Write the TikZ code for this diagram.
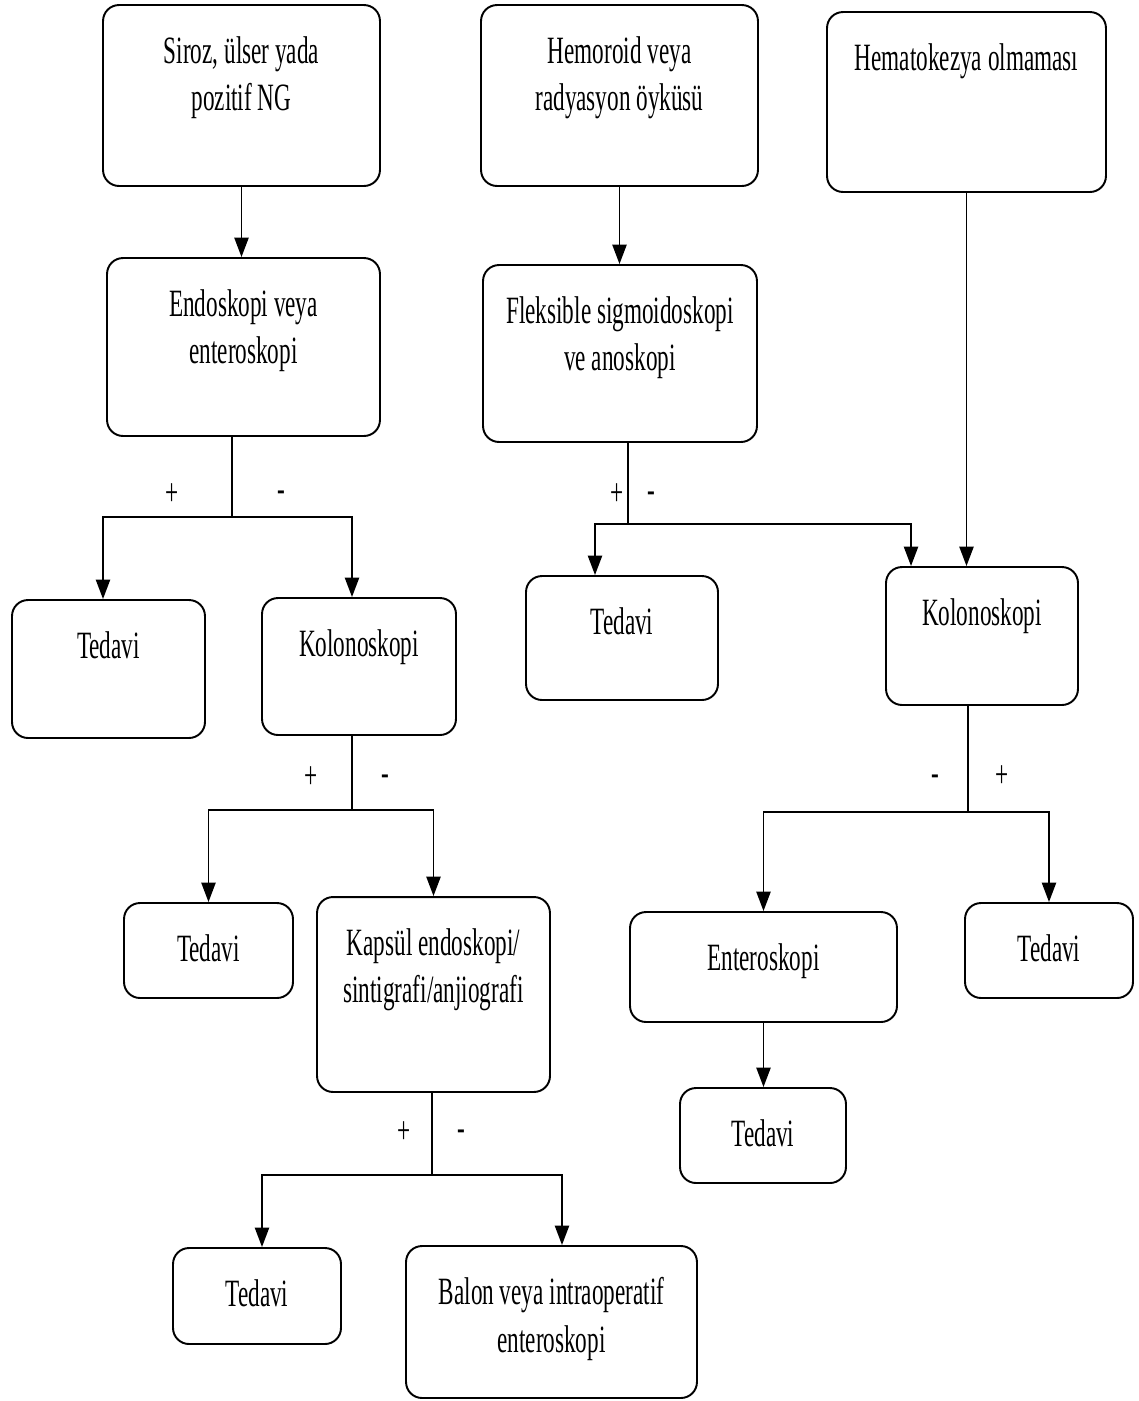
\documentclass[tikz,border=0pt]{standalone}
\usepackage{fontspec}
\setmainfont[FakeStretch=0.6]{Liberation Serif}
\usetikzlibrary{arrows.meta, positioning}

\begin{document}
\begin{tikzpicture}[x=0.02cm, y=-0.02cm,
    box/.style={rectangle, draw, line width=1.1pt, rounded corners=0.32cm, fill=white},
    boxtext/.style={anchor=north, align=center, inner sep=0pt, yshift=-0.64cm,
        font=\fontsize{22pt}{27pt}\selectfont},
    sign/.style={inner sep=0pt, font=\fontsize{22pt}{27pt}\selectfont},
    stem/.style={line width=0.6pt},
    arrowline/.style={line width=1.1pt, -{Triangle[width=8pt,length=11pt]}}]
    \useasboundingbox (0,0) rectangle (1139,1401);

    % top row
    \node [box, minimum width=5.54cm, minimum height=3.62cm,
        label={[boxtext]north:{Siroz, ülser yada\\pozitif NG}}] (siroz) at (241.5,95.5) {};
    \node [box, minimum width=5.54cm, minimum height=3.62cm,
        label={[boxtext]north:{Hemoroid veya\\radyasyon öyküsü}}] (hemo) at (619.5,95.5) {};
    \node [box, minimum width=5.58cm, minimum height=3.60cm,
        label={[boxtext]north:{Hematokezya olmaması}}] (hemat) at (966.5,102) {};

    \node [box, minimum width=5.46cm, minimum height=3.56cm,
        label={[boxtext]north:{Endoskopi veya\\enteroskopi}}] (endo) at (243.5,347) {};
    \node [box, minimum width=5.48cm, minimum height=3.54cm,
        label={[boxtext]north:{Fleksible sigmoidoskopi\\ve anoskopi}}] (fleks) at (620,353.5) {};

    \node [box, minimum width=3.86cm, minimum height=2.76cm,
        label={[boxtext]north:{Tedavi}}] (ted1) at (108.5,669) {};
    \node [box, minimum width=3.88cm, minimum height=2.74cm,
        label={[boxtext]north:{Kolonoskopi}}] (kolon1) at (359,666.5) {};
    \node [box, minimum width=3.84cm, minimum height=2.48cm,
        label={[boxtext]north:{Tedavi}}] (ted2) at (622,638) {};
    \node [box, minimum width=3.84cm, minimum height=2.76cm,
        label={[boxtext]north:{Kolonoskopi}}] (kolon2) at (982,636) {};

    \node [box, minimum width=3.38cm, minimum height=1.90cm,
        label={[boxtext]north:{Tedavi}}] (ted3) at (208.5,950.5) {};
    \node [box, minimum width=4.66cm, minimum height=3.90cm,
        label={[boxtext]north:{Kapsül endoskopi/\\sintigrafi/anjiografi}}] (kapsul) at (433.5,994.5) {};
    \node [box, minimum width=5.34cm, minimum height=2.20cm,
        label={[boxtext]north:{Enteroskopi}}] (entero) at (763.5,967) {};
    \node [box, minimum width=3.36cm, minimum height=1.90cm,
        label={[boxtext]north:{Tedavi}}] (ted4) at (1049,950.5) {};
    \node [box, minimum width=3.32cm, minimum height=1.90cm,
        label={[boxtext]north:{Tedavi}}] (ted5) at (763,1135.5) {};

    \node [box, minimum width=3.36cm, minimum height=1.92cm,
        label={[boxtext]north:{Tedavi}}] (ted6) at (257,1296) {};
    \node [box, minimum width=5.82cm, minimum height=3.04cm,
        label={[boxtext]north:{Balon veya intraoperatif\\enteroskopi}}] (balon) at (551.5,1322) {};

    % straight arrows
    \draw [arrowline] (siroz.south) -- (siroz.south |- endo.north);
    \draw [arrowline] (hemo.south) -- (hemo.south |- fleks.north);
    \draw [arrowline] (hemat.south) -- (hemat.south |- kolon2.north);
    \draw [arrowline] (entero.south) -- (entero.south |- ted5.north);

    % branches
    \coordinate (s1) at (232,517);
    \draw [stem] (endo.south -| s1) -- node[sign, pos=.72, xshift=-1.2cm] (p1) {+}
        node[sign, pos=.74, xshift=0.98cm] (m1) {-} (s1);
    \draw [arrowline] (s1) -| ([xshift=-0.11cm]ted1.north);
    \draw [arrowline] (s1) -| ([xshift=-0.14cm]kolon1.north);

    \coordinate (s2) at (628,524);
    \draw [stem] (fleks.south -| s2) -- node[sign, pos=.64, xshift=-0.22cm] (p2) {+}
        node[sign, pos=.67, xshift=0.46cm] (m2) {-} (s2);
    \draw [arrowline] (s2) -| ([xshift=-0.54cm]ted2.north);
    \draw [arrowline] (s2) -| ([xshift=-1.42cm]kolon2.north);

    \coordinate (s3) at (352,810);
    \draw [stem] (kolon1.south -| s3) -- node[sign, pos=.56, xshift=-0.82cm] (p3) {+}
        node[sign, pos=.6, xshift=0.66cm] (m3) {-} (s3);
    \draw [arrowline] (s3) -| (ted3.north);
    \draw [arrowline] (s3) -| (kapsul.north);

    \coordinate (s4) at (968,812);
    \draw [stem] (kolon2.south -| s4) -- node[sign, pos=.7, xshift=-0.66cm] (m4) {-}
        node[sign, pos=.67, xshift=0.68cm] (p4) {+} (s4);
    \draw [arrowline] (s4) -| (entero.north);
    \draw [arrowline] (s4) -| (ted4.north);

    \coordinate (s5) at (432,1175);
    \draw [stem] (kapsul.south -| s5) -- node[sign, pos=.48, xshift=-0.56cm] (p5) {+}
        node[sign, pos=.52, xshift=0.58cm] (m5) {-} (s5);
    \draw [arrowline] (s5) -| ([xshift=0.1cm]ted6.north);
    \draw [arrowline] (s5) -| ([xshift=0.21cm]balon.north);
\end{tikzpicture}
\end{document}
